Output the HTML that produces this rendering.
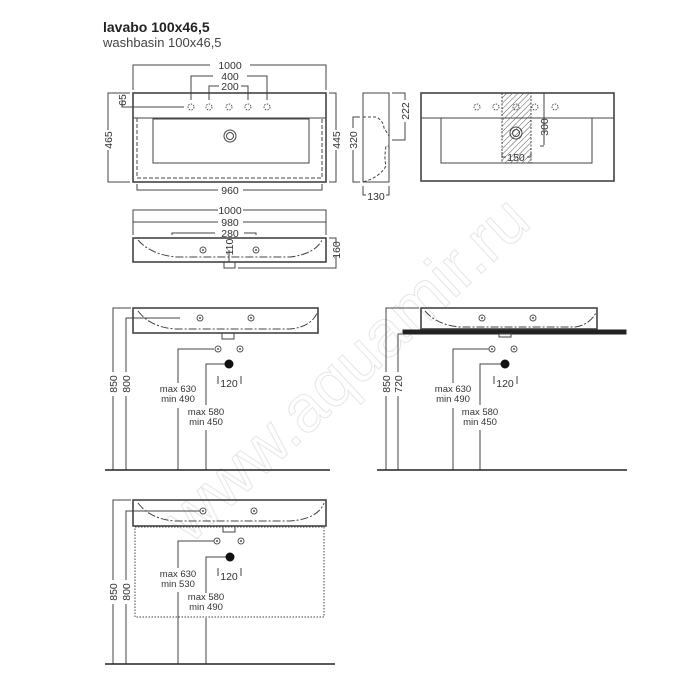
<!DOCTYPE html>
<html><head><meta charset="utf-8"><style>
html,body{margin:0;padding:0;background:#fff;}
svg{display:block}
text{font-family:"Liberation Sans",sans-serif;fill:#333;}
</style></head><body>
<svg width="700" height="700" viewBox="0 0 700 700" xmlns="http://www.w3.org/2000/svg">
<defs>
<pattern id="h" width="4" height="4" patternUnits="userSpaceOnUse" patternTransform="rotate(45)"><line x1="0" y1="0" x2="0" y2="4" stroke="#555" stroke-width="1"/></pattern>
<g id="hole"><circle r="3" fill="none" stroke="#555" stroke-width="1" stroke-dasharray="1.5 1.2"/></g>
<g id="tap"><circle r="3" fill="#fff" stroke="#555" stroke-width="1"/><circle r="1" fill="#555"/></g>
</defs>
<text transform="translate(190,545) rotate(-43)" font-size="66" style="fill:none;stroke:#e6e6e6;stroke-width:1">www.aquamir.ru</text>
<text x="103" y="32" font-size="14" font-weight="bold" style="fill:#222">lavabo 100x46,5</text>
<text x="103" y="47" font-size="13" style="fill:#444">washbasin 100x46,5</text>

<g fill="none" stroke="#444" stroke-width="1">
<rect x="133" y="93" width="193" height="89" stroke-width="1.6"/>
<line x1="133" y1="118" x2="326" y2="118"/>
<rect x="153" y="119" width="156" height="44"/>
<rect x="137" y="118" width="185" height="60" stroke-dasharray="4 2"/>
<circle cx="230" cy="136" r="6"/><circle cx="230" cy="136" r="3.5"/>
<path d="M133 90V65H210M250 65H326V90"/>
<path d="M191 100V76H213M247 76H267V100"/>
<path d="M209 100V86H219M241 86H248V100"/>
<path d="M130 93H108V130M108 150V182H130"/>
<path d="M130 107H122V100"/>
<path d="M122 107H184"/>
<path d="M329 93H336V130M336 150V182H329"/>
<path d="M137 184V190H218M243 190H322V184"/>
<rect x="363" y="93" width="26" height="89"/>
<path d="M363 117H376Q383 120 384 128L389 136V146H386Q384 158 386 166Q380 177 363 182" stroke-dasharray="3 2"/>
<path d="M392 93H405V100M405 122V140H392"/>
<path d="M360 117H353V128M353 150V182H360"/>
<path d="M363 186V195H366M386 195H389V186"/>
<rect x="421" y="93" width="193" height="88" stroke-width="1.6"/>
<line x1="421" y1="118" x2="614" y2="118"/>
<rect x="441" y="118" width="151" height="45"/>
<rect x="502" y="93" width="29" height="70" fill="url(#h)" stroke-dasharray="2 1.5"/>
<circle cx="516" cy="133" r="6"/><circle cx="516" cy="133" r="3.5"/>
<path d="M544 93V145M544 146H540"/>
<path d="M502 152V157H506M527 157H531V152"/>
<path d="M133 235V210H218M243 210H326V235"/>
<path d="M133 222H218M243 222H326"/>
<path d="M172 235V233H215M244 233H256V235"/>
<rect x="133" y="238" width="193" height="24" stroke-width="1.6"/>
<path d="M138 240Q150 254 175 257H290Q315 254 322 240" stroke-dasharray="8 2 2 2"/>
<rect x="224" y="262" width="11" height="6"/>
<path d="M329 238H336V245M336 256V268H238"/>
<line x1="229" y1="250" x2="229" y2="262"/>

<rect x="133" y="308" width="185" height="25" stroke-width="1.6"/>
<path d="M138 311Q150 327 175 329H290Q312 327 318 311" stroke-dasharray="8 2 2 2"/>
<rect x="222" y="333" width="12" height="6"/>
<path d="M131 308H113V372M113 396V470"/>
<path d="M180 318H126V372M126 396V470"/>
<path d="M214 349H178V383M178 408V470"/>
<path d="M229 364H206V405M206 430V470"/>
<line x1="105" y1="470" x2="330" y2="470" stroke="#222" stroke-width="1.6"/>

<rect x="421" y="308" width="176" height="21" stroke-width="1.6"/>
<path d="M425 311Q437 325 460 327H575Q590 325 597 311" stroke-dasharray="8 2 2 2"/>
<rect x="403" y="330" width="223" height="4" fill="#222" stroke="#222"/>
<rect x="499" y="334" width="12" height="3"/>
<path d="M419 308H386V372M386 396V470"/>
<path d="M402 334H398V372M398 396V470"/>
<path d="M491 349H453V383M453 408V470"/>
<path d="M505 364H480V405M480 430V470"/>
<line x1="377" y1="470" x2="627" y2="470" stroke="#222" stroke-width="1.6"/>

<rect x="133" y="500" width="193" height="26" stroke-width="1.6"/>
<path d="M138 503Q150 519 175 521H290Q318 519 324 503" stroke-dasharray="8 2 2 2"/>
<rect x="223" y="526" width="12" height="6"/>
<rect x="135" y="527" width="189" height="90" stroke-dasharray="1.5 1.5"/>
<path d="M131 500H113V580M113 604V664"/>
<path d="M200 511H126V580M126 604V664"/>
<path d="M217 541H178V568M178 592V664"/>
<path d="M230 557H206V593M206 618V664"/>
<line x1="105" y1="664" x2="335" y2="664" stroke="#222" stroke-width="1.6"/>

<path d="M218 376V384M241 376V384M494 376V384M517 376V384M218 568V576M241 568V576"/>
</g>

<g>
<use href="#hole" x="191" y="107"/><use href="#hole" x="209" y="107"/><use href="#hole" x="229" y="107"/><use href="#hole" x="248" y="107"/><use href="#hole" x="267" y="107"/>
<use href="#hole" x="477" y="107"/><use href="#hole" x="496" y="107"/><use href="#hole" x="516" y="107"/><use href="#hole" x="535" y="107"/><use href="#hole" x="555" y="107"/>
<use href="#tap" x="203" y="250"/><use href="#tap" x="256" y="250"/>
<use href="#tap" x="200" y="318"/><use href="#tap" x="251" y="318"/>
<use href="#tap" x="482" y="318"/><use href="#tap" x="533" y="318"/>
<use href="#tap" x="203" y="511"/><use href="#tap" x="254" y="511"/>
<use href="#tap" x="218" y="349"/><use href="#tap" x="240" y="349"/>
<use href="#tap" x="492" y="349"/><use href="#tap" x="514" y="349"/>
<use href="#tap" x="217" y="541"/><use href="#tap" x="241" y="541"/>
<circle cx="229" cy="364" r="4.5" fill="#111"/>
<circle cx="505" cy="364" r="4.5" fill="#111"/>
<circle cx="230" cy="557" r="4.5" fill="#111"/>
</g>

<g font-size="10.5" text-anchor="middle">
<text x="230" y="69">1000</text>
<text x="230" y="80">400</text>
<text x="230" y="90">200</text>
<text x="230" y="194">960</text>
<text x="376" y="200">130</text>
<text x="516" y="161">150</text>
<text x="230" y="214">1000</text>
<text x="230" y="226">980</text>
<text x="230" y="237">280</text>
<text x="229" y="387">120</text>
<text x="505" y="387">120</text>
<text x="229" y="580">120</text>
<text transform="translate(112,140) rotate(-90)">465</text>
<text transform="translate(126,100) rotate(-90)">65</text>
<text transform="translate(340,140) rotate(-90)">445</text>
<text transform="translate(357,140) rotate(-90)">320</text>
<text transform="translate(409,111) rotate(-90)">222</text>
<text transform="translate(548,127) rotate(-90)">300</text>
<text transform="translate(340,250) rotate(-90)">160</text>
<text transform="translate(233,247) rotate(-90)">110</text>
<text transform="translate(117,384) rotate(-90)">850</text>
<text transform="translate(130,384) rotate(-90)">800</text>
<text transform="translate(390,384) rotate(-90)">850</text>
<text transform="translate(402,384) rotate(-90)">720</text>
<text transform="translate(117,592) rotate(-90)">850</text>
<text transform="translate(130,592) rotate(-90)">800</text>
</g>
<g font-size="9.5" text-anchor="middle">
<text x="178" y="392">max 630</text><text x="178" y="402">min 490</text>
<text x="206" y="415">max 580</text><text x="206" y="425">min 450</text>
<text x="453" y="392">max 630</text><text x="453" y="402">min 490</text>
<text x="480" y="415">max 580</text><text x="480" y="425">min 450</text>
<text x="178" y="577">max 630</text><text x="178" y="587">min 530</text>
<text x="206" y="600">max 580</text><text x="206" y="610">min 490</text>
</g>
</svg>
</body></html>
